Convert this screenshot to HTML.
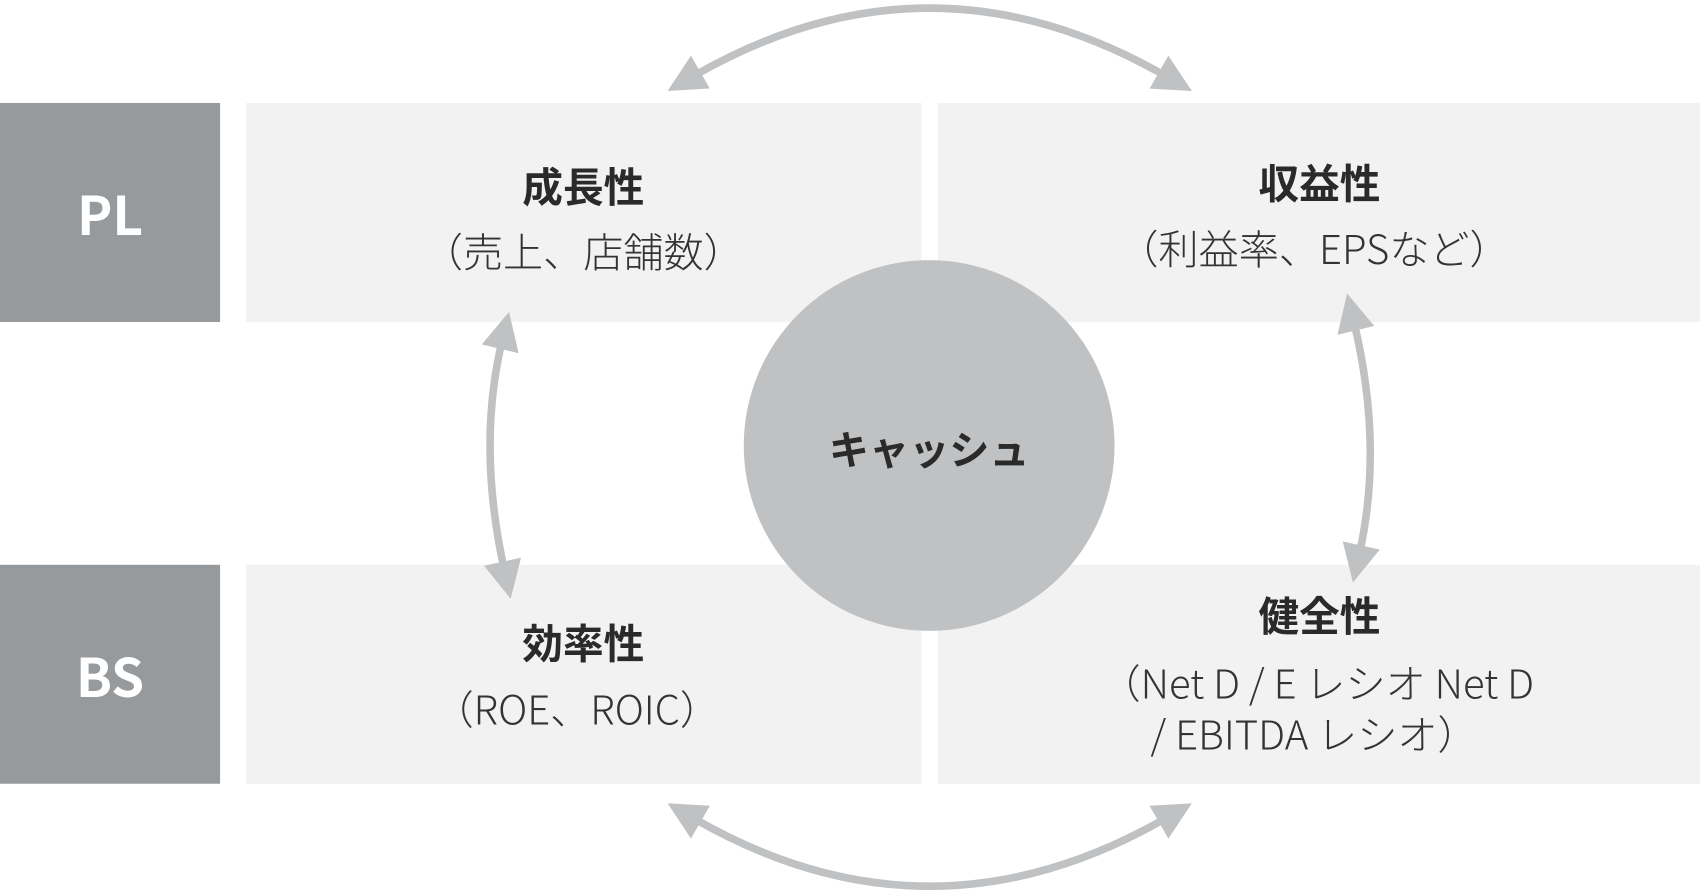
<!DOCTYPE html>
<html><head><meta charset="utf-8"><style>
html,body{margin:0;padding:0;background:#fff;overflow:hidden}
#w{width:1568px;height:821px;position:relative;transform:scale(1.08418,1.08404);transform-origin:0 0;font-family:"Noto Sans CJK JP","Liberation Sans",sans-serif}
.b{position:absolute}
.g{background:#979a9c;color:#fff;font-weight:bold;font-size:49px;display:flex;align-items:center;justify-content:center}
.c{background:#f1f2f1}
.t{position:absolute;transform:translate(-50%,-50%);white-space:nowrap;color:#333;text-align:center;line-height:1}
.h{font-weight:bold;font-size:37.5px;color:#2a2a2a}
.s{font-size:37px;font-weight:300;color:#333}
</style></head><body><div id="w">
<div class="b g" style="left:0;top:95px;width:203px;height:202px">PL</div>
<div class="b g" style="left:0;top:521px;width:203px;height:202px">BS</div>
<div class="b c" style="left:227px;top:95px;width:623px;height:202px"></div>
<div class="b c" style="left:865px;top:95px;width:703px;height:202px"></div>
<div class="b c" style="left:227px;top:521px;width:623px;height:202px"></div>
<div class="b c" style="left:865px;top:521px;width:703px;height:202px"></div>
<svg class="b" style="left:0;top:0" width="1568" height="821">
<defs><marker id="a" viewBox="0 0 10 10" refX="2" refY="5" markerWidth="5" markerHeight="5" orient="auto-start-reverse" markerUnits="strokeWidth"><path d="M0,0 L10,5 L0,10 Z" fill="#bfc1c3"/></marker></defs>
<g fill="none" stroke="#bfc1c3" stroke-width="7">
<path d="M640,70 Q857,-55 1075,70" marker-start="url(#a)" marker-end="url(#a)"/>
<path d="M640,755 Q857,880 1075,755" marker-start="url(#a)" marker-end="url(#a)"/>
<path d="M463,315 Q440,411 465,525" marker-start="url(#a)" marker-end="url(#a)"/>
<path d="M1249,298 Q1276,411 1254,510" marker-start="url(#a)" marker-end="url(#a)"/>
</g>
<circle cx="857" cy="411" r="171" fill="#bfc1c3"/>
</svg>
<div class="t h" style="left:538px;top:170px">成長性</div>
<div class="t s" style="left:538px;top:231px">（売上、店舗数）</div>
<div class="t h" style="left:1217px;top:167px">収益性</div>
<div class="t s" style="left:1212px;top:228px">（利益率、EPSなど）</div>
<div class="t h" style="left:538px;top:591px">効率性</div>
<div class="t s" style="left:532px;top:653px">（ROE、ROIC）</div>
<div class="t h" style="left:1217px;top:566px">健全性</div>
<div class="t s" style="left:1215px;top:629px">（Net D / E レシオ Net D</div>
<div class="t s" style="left:1212px;top:676px">/ EBITDA レシオ）</div>
<div class="t h" style="left:857px;top:413px;font-size:37px">キャッシュ</div>
</div></body></html>
